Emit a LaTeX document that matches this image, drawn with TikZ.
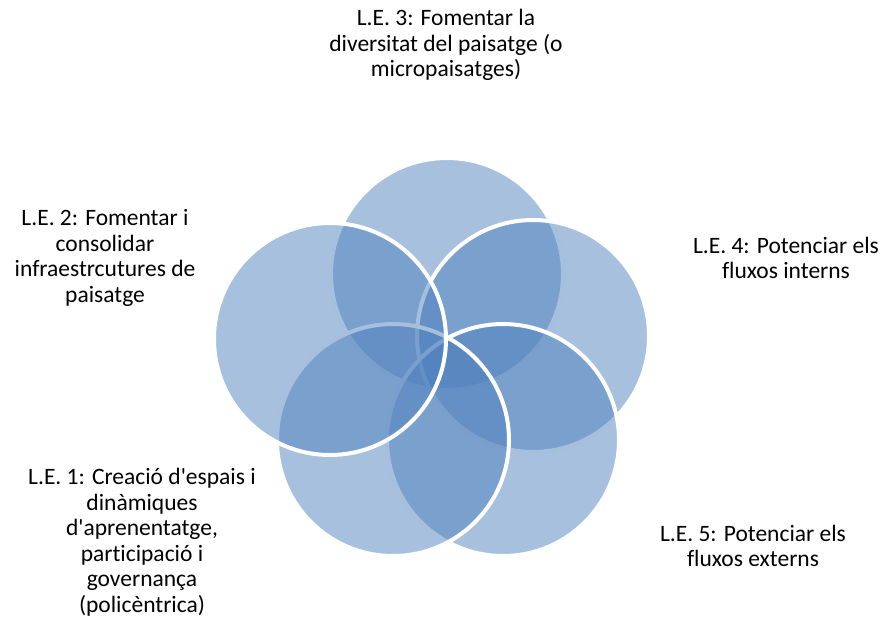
\documentclass[tikz,border=0pt]{standalone}
\usepackage{fontspec}
\setmainfont{Carlito}[Ligatures={NoCommon}]
\definecolor{vennblue}{HTML}{4F81BD}

\begin{document}
\begin{tikzpicture}[
	x=1pt, y=-1pt,
	venn/.style={circle, minimum size=232pt, inner sep=0pt,
		fill=vennblue, fill opacity=.5, draw=white, line width=4pt},
	letext/.style={align=center, inner sep=0pt,
		font=\fontsize{23.5}{25.5}\selectfont}]
   \useasboundingbox (0,0) rectangle (887,623);
   % circles, back to front
   \node[venn] (ctop) at (447,274) {};
   \node[venn] (cright) at (533,336) {};
   \node[venn] (cbright) at (503,440) {};
   \node[venn] (cbleft) at (393,440) {};
   \node[venn] (cleft) at (330,339) {};
   % texts
   \node[letext] (le3) at (446,45) {L.E. 3: Fomentar la\\diversitat del paisatge (o\\micropaisatges)};
   \node[letext] (le2) at (105,258) {L.E. 2: Fomentar i\\consolidar\\infraestrcutures de\\paisatge};
   \node[letext] (le1) at (142,542) {L.E. 1: Creació d\textquotesingle espais i\\dinàmiques\\d\textquotesingle aprenentatge,\\participació i\\governança\\(policèntrica)};
   \node[letext] (le4) at (786,258) {L.E. 4: Potenciar els\\fluxos interns};
   \node[letext] (le5) at (753,546) {L.E. 5: Potenciar els\\fluxos externs};
\end{tikzpicture}
\end{document}
